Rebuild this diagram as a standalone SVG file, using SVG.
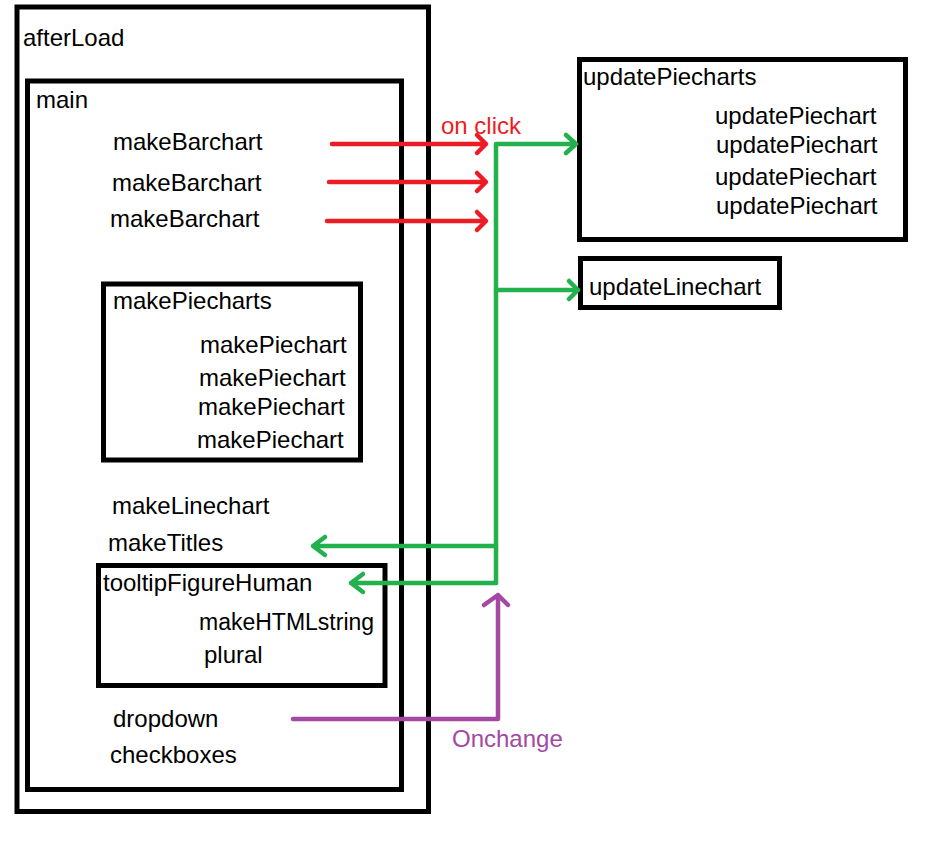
<svg xmlns="http://www.w3.org/2000/svg" width="948" height="846" viewBox="0 0 948 846">
<style>
.box{fill:none;stroke:#000;stroke-width:5}
text{font-family:"Liberation Sans",Arial,sans-serif;font-size:24px;fill:#000}
.r{stroke:#ed1c24}
.g{stroke:#22b14c}
.p{stroke:#a349a4}
.ln{fill:none;stroke-width:4.5;stroke-linecap:round;stroke-linejoin:round}
</style>
<rect width="948" height="846" fill="#fff"/>
<g id="afterLoad">
<rect class="box" x="17" y="7" width="411.5" height="804.5"/>
<text x="23" y="46">afterLoad</text>
</g>
<g id="main">
<rect class="box" x="27.5" y="81" width="374" height="708.5"/>
<text x="36" y="108">main</text>
<text x="113" y="150">makeBarchart</text>
<text x="112" y="191">makeBarchart</text>
<text x="110" y="227">makeBarchart</text>
<text x="112" y="514">makeLinechart</text>
<text x="108" y="551">makeTitles</text>
<text x="113" y="727">dropdown</text>
<text x="110" y="763">checkboxes</text>
</g>
<g id="makePiecharts">
<rect class="box" x="103.5" y="284" width="257" height="176"/>
<text x="113" y="309">makePiecharts</text>
<text x="200" y="353">makePiechart</text>
<text x="199" y="386">makePiechart</text>
<text x="198" y="415">makePiechart</text>
<text x="197" y="448">makePiechart</text>
</g>
<g id="tooltipFigureHuman">
<rect class="box" x="98.5" y="565.5" width="286.5" height="120"/>
<text x="103" y="591">tooltipFigureHuman</text>
<text x="199" y="630" style="font-size:23px">makeHTMLstring</text>
<text x="204" y="663">plural</text>
</g>
<g id="updatePiecharts">
<rect class="box" x="579.5" y="59.5" width="326" height="180"/>
<text x="583" y="85">updatePiecharts</text>
<text x="715" y="124">updatePiechart</text>
<text x="716" y="153">updatePiechart</text>
<text x="715" y="185">updatePiechart</text>
<text x="716" y="214">updatePiechart</text>
</g>
<g id="updateLinechart">
<rect class="box" x="580.5" y="258.5" width="199" height="49"/>
<text x="589" y="295">updateLinechart</text>
</g>
<g id="connectors">
<path class="ln r" d="M332 144H485M477 135L486 144L477 153"/>
<path class="ln r" d="M329 182H485M477 173L486 182L477 191"/>
<path class="ln r" d="M327 221H485M477 212L486 221L477 230"/>
<text x="441" y="134" style="fill:#ed1c24">on click</text>
<path class="ln g" d="M496 583V144H576M566 135L576 144L566 153"/>
<path class="ln g" d="M496 290H578M569 281L578 290L569 299"/>
<path class="ln g" d="M496 546H313M325 537L313 546L325 555"/>
<path class="ln g" d="M496 583H351M363 574L351 583L363 592"/>
<path class="ln p" d="M293 719H498V595M484 605L498 595L508 605"/>
<text x="452" y="747" style="fill:#a349a4">Onchange</text>
</g>
</svg>
